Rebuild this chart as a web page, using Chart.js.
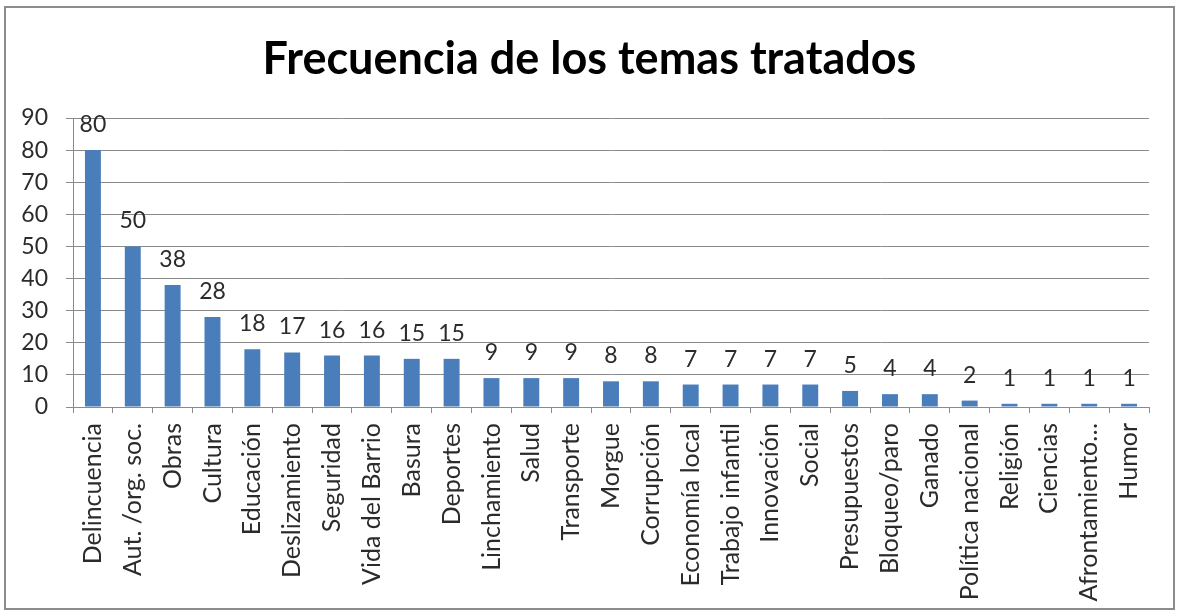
<!DOCTYPE html>
<html>
<head>
<meta charset="utf-8">
<script src="https://cdn.jsdelivr.net/npm/chart.js@4"></script>
<style>
  body { margin: 0; background: #fff; }
  #frame {
    position: absolute; left: 4px; top: 6px; width: 1171px; height: 604px;
    border: 2px solid #8c8c8c; box-sizing: border-box;
  }
  #chart { display: block; }
</style>
</head>
<body>
<div id="frame"><canvas id="chart" width="1167" height="600"></canvas></div>
<script>
const chartTitle = 'Frecuencia de los temas tratados';
const categories = [
    'Delincuencia', 'Aut. /org. soc.', 'Obras', 'Cultura', 'Educación', 'Deslizamiento',
    'Seguridad', 'Vida del Barrio', 'Basura', 'Deportes', 'Linchamiento', 'Salud',
    'Transporte', 'Morgue', 'Corrupción', 'Economía local', 'Trabajo infantil', 'Innovación',
    'Social', 'Presupuestos', 'Bloqueo/paro', 'Ganado', 'Política nacional', 'Religión',
    'Ciencias', 'Afrontamiento…', 'Humor'
];
const frequencies = [80, 50, 38, 28, 18, 17, 16, 16, 15, 15, 9, 9, 9, 8, 8, 7, 7, 7, 7, 5, 4, 4, 2, 1, 1, 1, 1];
const yTicks = [0, 10, 20, 30, 40, 50, 60, 70, 80, 90];

const FONT = 'Lato';
const TEXT = '#2b2b2b';
const GRID = '#8a8a8a';

// value labels above each bar
const valueLabels = {
    id: 'valueLabels',
    afterDatasetsDraw(chart) {
        const ctx = chart.ctx;
        const meta = chart.getDatasetMeta(0);
        ctx.save();
        ctx.font = `23px ${FONT}`;
        ctx.fillStyle = TEXT;
        ctx.textAlign = 'center';
        ctx.textBaseline = 'alphabetic';
        meta.data.forEach((bar, i) => {
            ctx.fillText(String(frequencies[i]), bar.x, bar.y - 18);
        });
        ctx.restore();
    }
};

new Chart(document.getElementById('chart').getContext('2d'), {
    type: 'bar',
    data: {
        labels: categories,
        datasets: [{
            data: frequencies,
            backgroundColor: '#4a7ebb',
            barPercentage: 0.4,
            categoryPercentage: 1.0
        }]
    },
    options: {
        responsive: false,
        animation: false,
        layout: { padding: { top: 4, right: 0, left: 0, bottom: 0 } },
        plugins: {
            legend: { display: false },
            tooltip: { enabled: false },
            title: {
                display: true,
                text: chartTitle,
                color: '#000',
                font: { family: FONT, size: 45, weight: 'bold', lineHeight: 1.2 },
                padding: { top: 20, bottom: 32 }
            }
        },
        scales: {
            x: {
                afterFit: (scale) => { scale.height = 201; },
                grid: { drawOnChartArea: false, drawTicks: true, tickLength: 6, color: GRID },
                border: { color: GRID },
                ticks: {
                    autoSkip: false,
                    maxRotation: 90,
                    minRotation: 90,
                    padding: 10,
                    color: TEXT,
                    font: { family: FONT, size: 25 }
                }
            },
            y: {
                min: 0,
                max: 90,
                afterFit: (scale) => { scale.width = 67; },
                afterBuildTicks: (scale) => { scale.ticks = yTicks.map(v => ({ value: v })); },
                grid: { color: GRID, tickLength: 7 },
                border: { color: GRID },
                ticks: {
                    padding: 18,
                    color: TEXT,
                    font: { family: FONT, size: 23 }
                }
            },
            // empty right-hand spacer so the plot ends where the reference does
            spacer: {
                position: 'right',
                grid: { display: false },
                border: { display: false },
                ticks: { display: false },
                afterFit: (scale) => { scale.width = 24; }
            }
        }
    },
    plugins: [valueLabels]
});
</script>
</body>
</html>
